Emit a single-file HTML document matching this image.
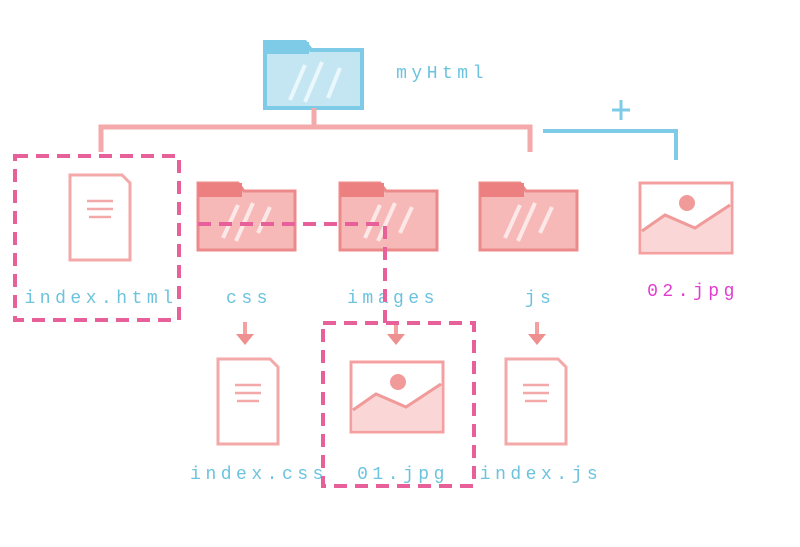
<!DOCTYPE html>
<html><head><meta charset="utf-8"><style>
html,body{margin:0;padding:0;background:#fff;width:800px;height:547px;overflow:hidden}
text{font-family:"Liberation Mono",monospace;font-size:18px;letter-spacing:4.5px;fill:#6cc3df;text-anchor:middle}
</style></head><body>
<svg width="800" height="547" viewBox="0 0 800 547" xmlns="http://www.w3.org/2000/svg">
<defs>
<g id="doc"><path d="M0,0 H52 L60,8 V85 H0 Z" fill="#fff" stroke="#f4a9a9" stroke-width="3"/>
<path d="M17,26 H43 M17,34 H43 M19,42 H41" stroke="#f4a9a9" stroke-width="2.5"/></g>
<g id="fold"><path d="M0,0 H40 L46,8 H97 V67 H0 Z" fill="#f7b8b8" stroke="#ec8a8a" stroke-width="3"/>
<rect x="0" y="0" width="44" height="14" fill="#ec8080"/>
<path d="M25,55 L40,22 M38,58 L55,20 M60,50 L72,24" stroke="#fde8e8" stroke-width="4"/></g>
<g id="img"><rect x="0" y="0" width="92" height="70" fill="#fff" stroke="#f4a0a0" stroke-width="3"/>
<circle cx="47" cy="20" r="8" fill="#f09a9a"/>
<path d="M2,48 L25,32 L55,45 L90,22 V68 H2 Z" fill="#fbd6d6"/>
<path d="M2,48 L25,32 L55,45 L90,22" stroke="#f09a9a" stroke-width="3" fill="none"/></g>
<g id="arr"><path d="M0,0 V16" stroke="#f4a0a0" stroke-width="4"/><path d="M-9,12 L0,23 L9,12 Z" fill="#ef9090"/></g>
</defs>
<path d="M265,42 H305 L311,50 H362 V108 H265 Z" fill="#c4e6f3" stroke="#7dcbe6" stroke-width="4"/>
<rect x="265" y="42" width="44" height="12" fill="#7dcbe6"/>
<path d="M290,100 L305,65 M305,102 L322,62 M328,98 L340,68" stroke="#eaf7fc" stroke-width="4"/>
<text x="442" y="78">myHtml</text>
<path d="M314,108 V127 M101,152 V127 H530 V152" stroke="#f4aaaa" stroke-width="5" fill="none"/>
<path d="M543,131 H676 V160" stroke="#7dcbe6" stroke-width="4" fill="none"/>
<path d="M621,100 V120 M612,110 H630" stroke="#7dcbe6" stroke-width="3"/>
<use href="#doc" x="70" y="175"/>
<use href="#fold" x="198" y="183"/>
<use href="#fold" x="340" y="183"/>
<use href="#fold" x="480" y="183"/>
<use href="#img" x="640" y="183"/>
<text x="101" y="303">index.html</text>
<text x="249" y="303">css</text>
<text x="393" y="303">images</text>
<text x="540" y="303">js</text>
<text x="693" y="296" style="fill:#e03ccf">02.jpg</text>
<use href="#arr" x="245" y="322"/>
<use href="#arr" x="396" y="322"/>
<use href="#arr" x="537" y="322"/>
<use href="#doc" x="218" y="359"/>
<use href="#img" x="351" y="362"/>
<use href="#doc" x="506" y="359"/>
<text x="259" y="479">index.css</text>
<text x="403" y="479">01.jpg</text>
<text x="541" y="479">index.js</text>
<g stroke="#e8609a" stroke-width="4" fill="none" stroke-dasharray="13,8">
<rect x="15" y="156" width="164" height="164"/>
<path d="M198,224 H385 V323"/>
<rect x="323" y="323" width="151" height="163"/>
</g>
</svg>
</body></html>
